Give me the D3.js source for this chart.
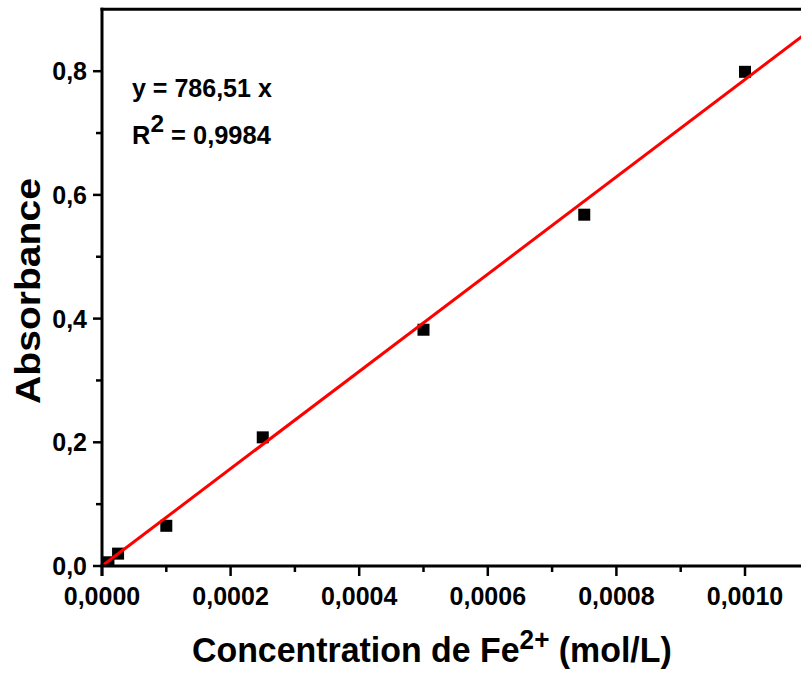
<!DOCTYPE html>
<html>
<head>
<meta charset="utf-8">
<script src="https://cdn.jsdelivr.net/npm/d3@7"></script>
<style>
  body { margin: 0; background: #fff; }
  text { font-family: "Liberation Sans", Arial, sans-serif; font-weight: bold; }
</style>
</head>
<body>
<div id="chart"></div>
<script>
// Calibration data: absorbance vs Fe2+ concentration
var concentration = [0.00001, 0.000025, 0.0001, 0.00025, 0.0005, 0.00075, 0.001];
var absorbance = [0.006, 0.020, 0.065, 0.208, 0.382, 0.568, 0.799];
var slope = 786.51;
var xTicks = [0, 0.0002, 0.0004, 0.0006, 0.0008, 0.0010];
var yTicks = [0, 0.2, 0.4, 0.6, 0.8];

var W = 801, H = 675;
var margin = { top: 9, left: 102, bottom: 566 };

var svg = d3.select("#chart").append("svg")
    .attr("width", W)
    .attr("height", H);

// Scales (x runs past the picture edge, like the cropped original)
var x = d3.scaleLinear().domain([0, 0.0011]).range([margin.left, margin.left + 643 * 1.1]);
var y = d3.scaleLinear().domain([0, 0.9]).range([margin.bottom, margin.bottom - 618.5 * 0.9]);

var fmtX = function (d) { return d3.format(".4f")(d).replace(".", ","); };
var fmtY = function (d) { return d3.format(".1f")(d).replace(".", ","); };

// stretch a text horizontally so it spans a given width (font differs from original)
function fitWidth(sel, target, ox, oy, rot) {
    var w = sel.node().getBBox().width;
    var s = target / w;
    sel.attr("transform", "translate(" + ox + "," + oy + ")" + (rot ? " rotate(" + rot + ")" : "") +
        " scale(" + s + ",1)");
}

// Clip for plot marks
svg.append("clipPath").attr("id", "plotclip")
  .append("rect")
    .attr("x", margin.left).attr("y", y(0.9))
    .attr("width", W - margin.left).attr("height", margin.bottom - y(0.9));

var plot = svg.append("g").attr("clip-path", "url(#plotclip)");

// Data points
plot.selectAll(".pt")
    .data(concentration.map(function (c, i) { return [c, absorbance[i]]; }))
    .enter().append("rect")
    .attr("class", "pt")
    .attr("x", function (d) { return x(d[0]) - 6; })
    .attr("y", function (d) { return y(d[1]) - 6; })
    .attr("width", 12)
    .attr("height", 12)
    .attr("fill", "#000");

// Fit line y = 786.51 x
var fitX = x.domain();
plot.append("line")
    .attr("x1", x(fitX[0])).attr("y1", y(slope * fitX[0]))
    .attr("x2", x(fitX[1])).attr("y2", y(slope * fitX[1]))
    .attr("stroke", "#ff0000")
    .attr("stroke-width", 3);

// Bottom axis
var xAxis = svg.append("g")
    .attr("transform", "translate(0," + margin.bottom + ")");
xAxis.append("line")
    .attr("x1", margin.left - 1.5).attr("x2", W)
    .attr("stroke", "#000").attr("stroke-width", 3);
xAxis.selectAll(".minor")
    .data(d3.range(0.0001, 0.0011, 0.0002))
    .enter().append("line")
    .attr("x1", function (d) { return x(d); }).attr("x2", function (d) { return x(d); })
    .attr("y1", 0).attr("y2", 6)
    .attr("stroke", "#000").attr("stroke-width", 2.5);
var xt = xAxis.selectAll(".tick")
    .data(xTicks)
    .enter().append("g")
    .attr("transform", function (d) { return "translate(" + x(d) + ",0)"; });
xt.append("line").attr("y1", 0).attr("y2", 10).attr("stroke", "#000").attr("stroke-width", 2.5);
xt.append("text")
    .attr("y", 39)
    .attr("text-anchor", "middle")
    .attr("font-size", 25)
    .text(fmtX);

// Left axis
var yAxis = svg.append("g")
    .attr("transform", "translate(" + margin.left + ",0)");
yAxis.append("line")
    .attr("y1", y(0.9) - 1.5).attr("y2", margin.bottom + 10)
    .attr("stroke", "#000").attr("stroke-width", 3);
yAxis.selectAll(".minor")
    .data([0.1, 0.3, 0.5, 0.7])
    .enter().append("line")
    .attr("y1", function (d) { return y(d); }).attr("y2", function (d) { return y(d); })
    .attr("x1", 0).attr("x2", -6)
    .attr("stroke", "#000").attr("stroke-width", 2.5);
var yt = yAxis.selectAll(".tick")
    .data(yTicks)
    .enter().append("g")
    .attr("transform", function (d) { return "translate(0," + y(d) + ")"; });
yt.append("line").attr("x1", 0).attr("x2", -9).attr("stroke", "#000").attr("stroke-width", 2.5);
yt.append("text")
    .attr("x", -15)
    .attr("dy", "0.36em")
    .attr("text-anchor", "end")
    .attr("font-size", 25)
    .text(fmtY);

// Top frame line
svg.append("line")
    .attr("x1", margin.left - 1.5).attr("x2", W)
    .attr("y1", y(0.9)).attr("y2", y(0.9))
    .attr("stroke", "#000").attr("stroke-width", 3);

// Axis titles
var yTitle = svg.append("text")
    .attr("text-anchor", "middle")
    .attr("font-size", 35)
    .text("Absorbance");
fitWidth(yTitle, 226, 40, 291, -90);

var xTitle = svg.append("text")
    .attr("text-anchor", "start")
    .attr("font-size", 35);
xTitle.append("tspan").text("Concentration de Fe");
xTitle.append("tspan").attr("dy", -13).attr("font-size", 27).text("2+");
xTitle.append("tspan").attr("dy", 13).text(" (mol/L)");
fitWidth(xTitle, 480, 192, 662);

// Equation annotation
var eq = svg.append("text")
    .attr("font-size", 25)
    .text("y = 786,51 x");
fitWidth(eq, 140, 132, 97);
var r2 = svg.append("text")
    .attr("font-size", 25);
r2.append("tspan").text("R");
r2.append("tspan").attr("dy", -12).attr("font-size", 24).text("2");
r2.append("tspan").attr("dy", 12).text(" = 0,9984");
fitWidth(r2, 139, 132, 144);
</script>
</body>
</html>
